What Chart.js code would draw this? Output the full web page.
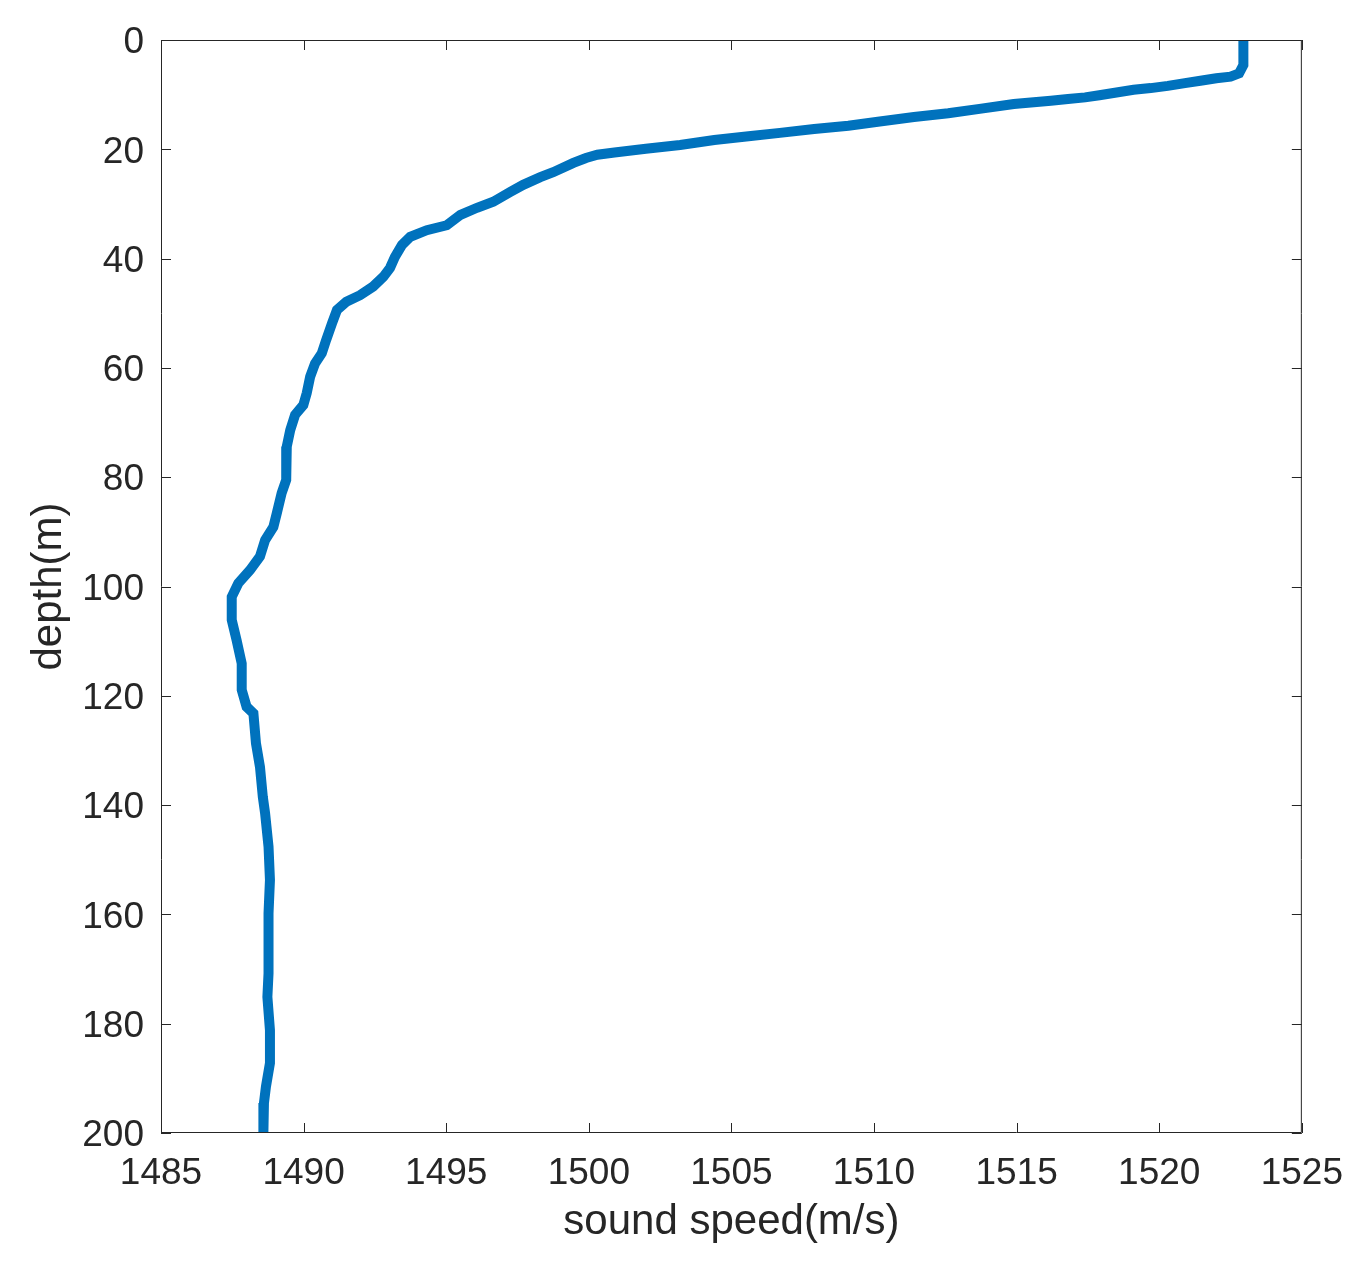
<!DOCTYPE html>
<html>
<head>
    <title>Sound speed profile</title>
    <script src="https://cdn.jsdelivr.net/npm/chart.js"></script>
    <style>
    html, body { margin: 0; padding: 0; background: #fff; }
    #wrap { width: 1362px; height: 1266px; }
    </style>
</head>
<body>
<div id="wrap"><canvas id="profileChart" width="1362" height="1266"></canvas></div>
<script>
// depth (m) and sound speed (m/s)
const depths = [0, 4.6, 6.1, 6.7, 7.0, 7.4, 7.9, 8.4, 8.8, 9.1, 9.6, 10.1, 10.5, 10.8, 11.1,
    11.7, 12.6, 13.4, 14.1, 14.9, 15.7, 16.3, 17.0, 17.6, 18.3, 19.2, 19.9, 20.6, 21.0, 21.6,
    22.5, 24.2, 25.1, 26.5, 27.8, 29.6, 30.7, 32.0, 33.9, 34.8, 36.0, 37.5, 39.7, 41.7, 43.3,
    45.1, 46.7, 47.9, 49.4, 51.8, 54.9, 57.3, 59.2, 61.6, 64.6, 66.8, 68.6, 71.4, 74.4, 80.5,
    82.9, 86.6, 89.1, 91.5, 94.5, 97.0, 99.4, 101.9, 106.1, 109.8, 114.1, 118.9, 122.0, 123.2,
    128.7, 133.0, 138.5, 141.5, 147.6, 153.7, 159.8, 165.9, 170.8, 175.1, 181.2, 187.2, 191.5,
    194.5, 200];
const soundSpeed = [1522.95, 1522.95, 1522.8, 1522.5, 1522.0, 1521.5, 1520.9, 1520.3, 1519.7, 1519.1, 1518.5, 1517.9, 1517.4, 1516.8, 1516.2,
    1514.9, 1513.7, 1512.6, 1511.4, 1510.2, 1509.1, 1507.9, 1506.7, 1505.6, 1504.4, 1503.2, 1502.0, 1500.9, 1500.3, 1499.9,
    1499.46, 1498.75, 1498.3, 1497.7, 1497.25, 1496.65, 1496.08, 1495.5, 1495.02, 1494.32, 1493.74, 1493.45, 1493.2, 1493.03, 1492.8,
    1492.44, 1491.98, 1491.5, 1491.17, 1491.0, 1490.79, 1490.64, 1490.4, 1490.23, 1490.11, 1489.99, 1489.7, 1489.53, 1489.41, 1489.39,
    1489.23, 1489.06, 1488.94, 1488.65, 1488.47, 1488.12, 1487.71, 1487.48, 1487.48, 1487.65, 1487.83, 1487.83, 1488.0, 1488.24,
    1488.33, 1488.47, 1488.57, 1488.65, 1488.77, 1488.82, 1488.77, 1488.77, 1488.77, 1488.73, 1488.82, 1488.82, 1488.68,
    1488.61, 1488.59];

const xTicks = [1485, 1490, 1495, 1500, 1505, 1510, 1515, 1520, 1525];
const yTicks = [0, 20, 40, 60, 80, 100, 120, 140, 160, 180, 200];

const axisColor = '#262626';
const fontFamily = '"Liberation Sans", Arial, Helvetica, sans-serif';

// matlab style box with inward ticks on all four sides
const boxTicks = {
    id: 'boxTicks',
    afterDraw(chart) {
        const {ctx, chartArea: a, scales: {x, y}} = chart;
        const len = 10;
        ctx.save();
        ctx.strokeStyle = axisColor;
        ctx.lineWidth = 1;
        ctx.beginPath();
        ctx.rect(a.left + 0.5, a.top + 0.5, a.right - a.left - 1, a.bottom - a.top - 1);
        xTicks.forEach(v => {
            const px = Math.round(x.getPixelForValue(v)) + 0.5;
            ctx.moveTo(px, a.bottom); ctx.lineTo(px, a.bottom - len);
            ctx.moveTo(px, a.top); ctx.lineTo(px, a.top + len);
        });
        yTicks.forEach(v => {
            const py = Math.round(y.getPixelForValue(v)) + 0.5;
            ctx.moveTo(a.left, py); ctx.lineTo(a.left + len, py);
            ctx.moveTo(a.right, py); ctx.lineTo(a.right - len, py);
        });
        ctx.stroke();
        ctx.restore();
    }
};

const plain = v => String(v);

const ctx = document.getElementById('profileChart').getContext('2d');
new Chart(ctx, {
    type: 'scatter',
    data: {
        datasets: [{
            data: depths.map((d, i) => ({x: soundSpeed[i], y: d})),
            showLine: true,
            borderColor: '#0072BD',
            backgroundColor: '#0072BD',
            borderWidth: 10,
            pointRadius: 0,
            tension: 0,
            clip: 0
        }]
    },
    options: {
        responsive: false,
        animation: false,
        layout: { padding: { top: 40, right: 60, left: 0, bottom: 0 } },
        plugins: { legend: { display: false }, tooltip: { enabled: false } },
        scales: {
            x: {
                type: 'linear',
                min: 1485, max: 1525,
                afterBuildTicks: s => { s.ticks = xTicks.map(v => ({value: v})); },
                afterFit: s => { s.height = 133; },
                grid: { display: false, drawTicks: false },
                border: { display: false },
                ticks: { color: axisColor, padding: 19, callback: plain, font: { family: fontFamily, size: 37 } },
                title: { display: true, text: 'sound speed(m/s)', color: axisColor,
                    padding: { top: 0, bottom: 18 }, font: { family: fontFamily, size: 42 } }
            },
            y: {
                type: 'linear',
                reverse: true,
                min: 0, max: 200,
                afterBuildTicks: s => { s.ticks = yTicks.map(v => ({value: v})); },
                afterFit: s => { s.width = 161; },
                grid: { display: false, drawTicks: false },
                border: { display: false },
                ticks: { color: axisColor, padding: 17, labelOffset: 3, callback: plain, font: { family: fontFamily, size: 37 } },
                title: { display: true, text: 'depth(m)', color: axisColor,
                    padding: { top: 24, bottom: 0 }, font: { family: fontFamily, size: 42 } }
            }
        }
    },
    plugins: [boxTicks]
});
</script>
</body>
</html>
